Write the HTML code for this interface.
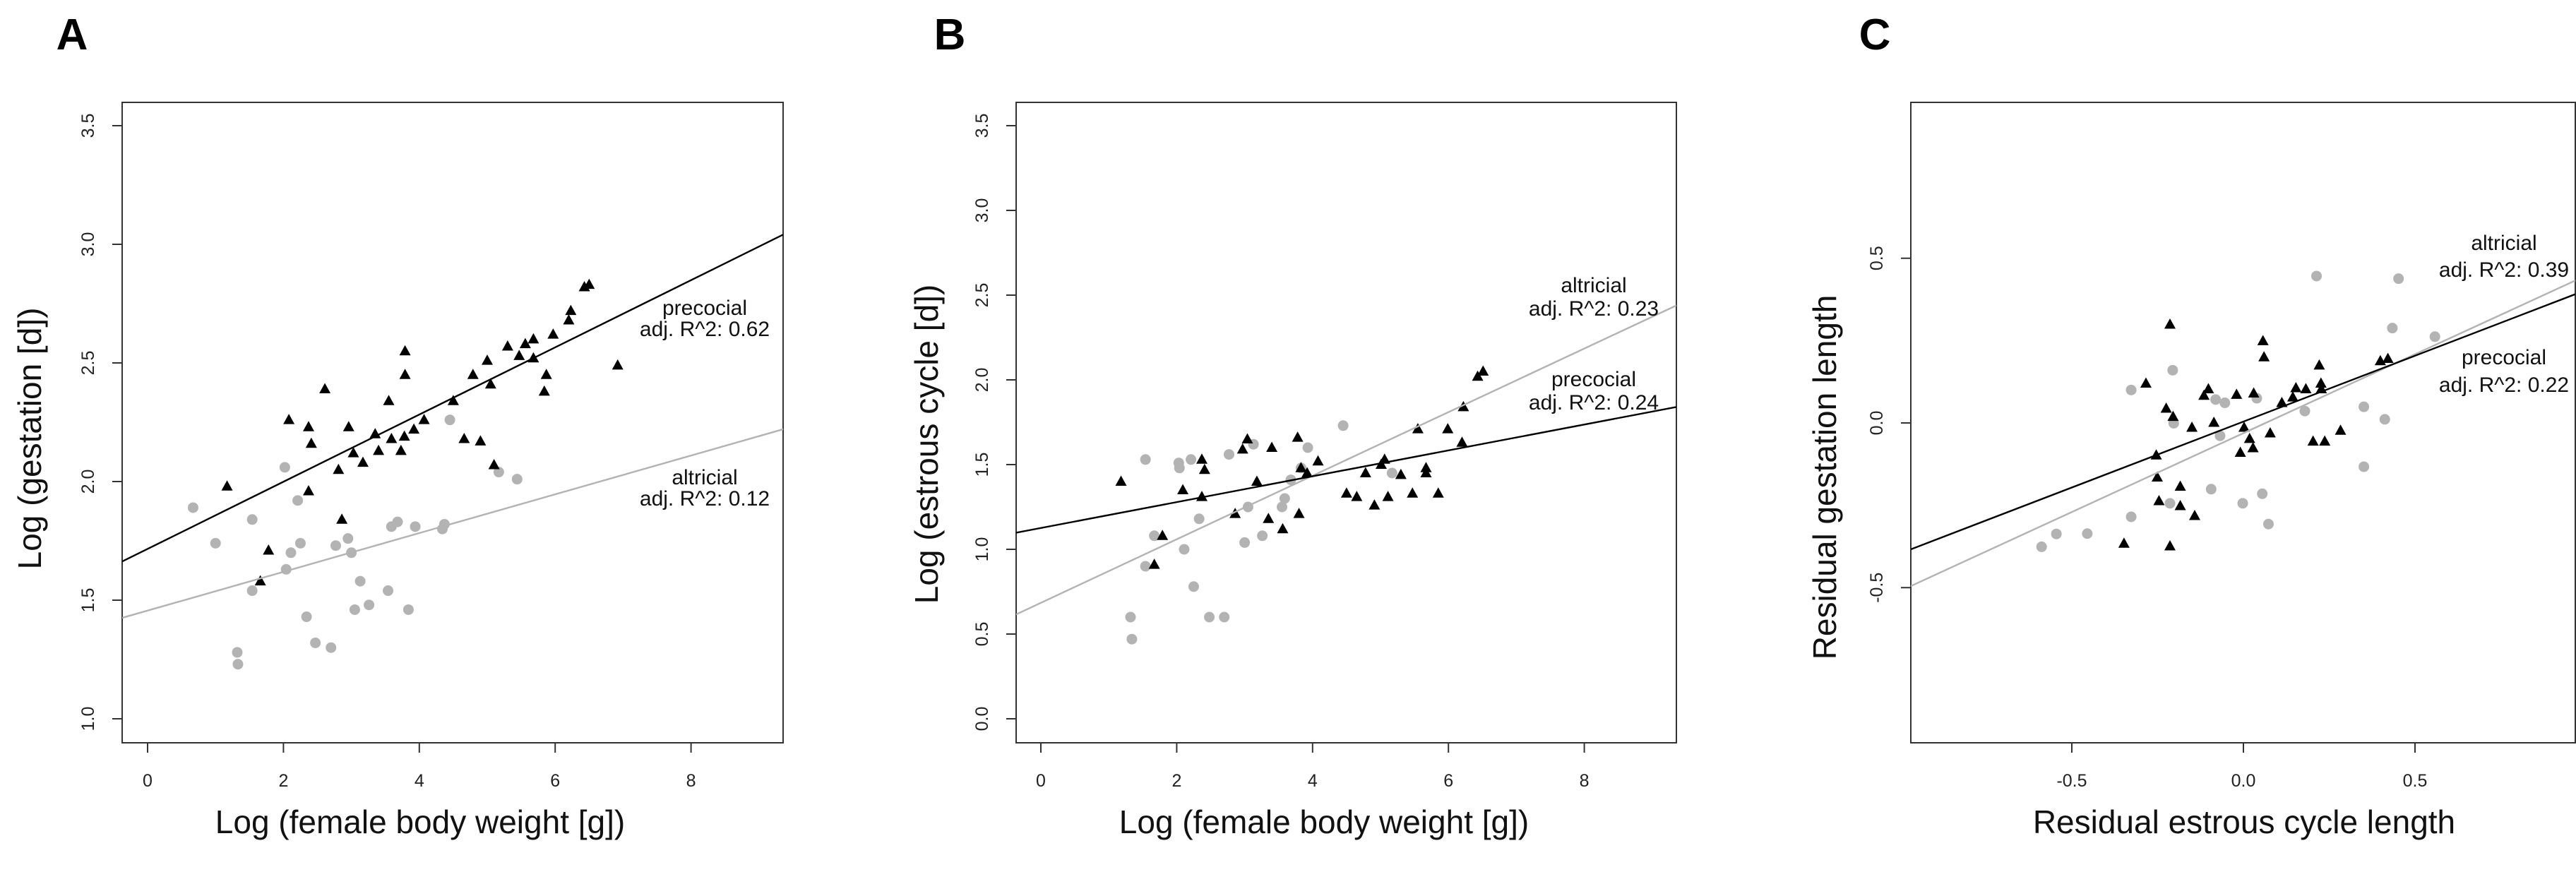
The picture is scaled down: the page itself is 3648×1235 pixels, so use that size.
<!DOCTYPE html>
<html><head><meta charset="utf-8"><style>
html,body{margin:0;padding:0;background:#fff;}
svg{display:block;}
text{font-family:"Liberation Sans",sans-serif;}
</style></head><body>
<svg id="fig" width="3648" height="1235" viewBox="0 0 3648 1235" xmlns="http://www.w3.org/2000/svg"></svg>
<script>
// Panel A data
const aPreX=[1.17,1.78,1.66,2.08,2.37,2.41,2.37,2.61,2.81,2.86,2.96,3.03,3.17,3.35,3.40,3.55,3.59,3.73,3.78,3.79,3.79,3.92,4.07,4.50,4.66,4.79,4.90,5.00,5.05,5.10,5.30,5.47,5.56,5.68,5.68,5.84,5.87,5.97,6.20,6.23,6.43,6.50,6.92];
const aPreY=[1.98,1.71,1.58,2.26,2.23,2.16,1.96,2.39,2.05,1.84,2.23,2.12,2.08,2.20,2.13,2.34,2.18,2.13,2.19,2.55,2.45,2.22,2.26,2.34,2.18,2.45,2.17,2.51,2.41,2.07,2.57,2.53,2.58,2.60,2.52,2.38,2.45,2.62,2.68,2.72,2.82,2.83,2.49];
const aAltX=[0.67,1.00,1.32,1.33,1.54,1.54,2.02,2.04,2.11,2.21,2.25,2.34,2.47,2.70,2.77,2.95,3.00,3.05,3.13,3.26,3.54,3.59,3.68,3.84,3.94,4.34,4.37,4.45,5.17,5.44];
const aAltY=[1.89,1.74,1.28,1.23,1.84,1.54,2.06,1.63,1.70,1.92,1.74,1.43,1.32,1.30,1.73,1.76,1.70,1.46,1.58,1.48,1.54,1.81,1.83,1.46,1.81,1.80,1.82,2.26,2.04,2.01];
const aFitPre=[1.716,0.1416], aFitAlt=[1.456,0.0817];
const aXTicks=[0,2,4,6,8], aYTicks=[1.0,1.5,2.0,2.5,3.0,3.5];
// Panel B data
const bPreX=[1.18,1.67,1.79,2.09,2.37,2.37,2.41,2.86,2.97,3.04,3.18,3.35,3.40,3.56,3.78,3.80,3.83,3.92,4.08,4.50,4.65,4.78,4.91,5.01,5.06,5.11,5.30,5.47,5.55,5.67,5.67,5.85,5.99,6.20,6.22,6.43,6.51];
const bPreY=[1.40,0.91,1.08,1.35,1.53,1.31,1.47,1.21,1.59,1.65,1.40,1.18,1.60,1.12,1.66,1.21,1.48,1.45,1.52,1.33,1.31,1.45,1.26,1.50,1.53,1.31,1.44,1.33,1.71,1.48,1.45,1.33,1.71,1.63,1.84,2.02,2.05];
const bAltX=[1.32,1.34,1.54,1.54,1.67,2.03,2.04,2.11,2.21,2.25,2.33,2.48,2.70,2.77,3.00,3.05,3.13,3.26,3.55,3.59,3.68,3.83,3.93,4.45,5.17];
const bAltY=[0.60,0.47,1.53,0.90,1.08,1.51,1.48,1.00,1.53,0.78,1.18,0.60,0.60,1.56,1.04,1.25,1.62,1.08,1.25,1.30,1.41,1.48,1.60,1.73,1.45];
const bFitPre=[1.126,0.0763], bFitAlt=[0.684,0.1876];
const bXTicks=[0,2,4,6,8], bYTicks=[0.0,0.5,1.0,1.5,2.0,2.5,3.0,3.5];
// Panel C data
const cPreX=[-0.348,-0.284,-0.254,-0.251,-0.246,-0.225,-0.214,-0.214,-0.205,-0.184,-0.184,-0.150,-0.142,-0.115,-0.102,-0.086,-0.020,-0.009,0.002,0.018,0.028,0.030,0.057,0.060,0.078,0.112,0.144,0.153,0.182,0.203,0.221,0.226,0.227,0.237,0.283,0.399,0.421];
const cPreY=[-0.366,0.120,-0.098,-0.165,-0.237,0.044,0.299,-0.374,0.019,-0.193,-0.252,-0.014,-0.282,0.083,0.103,0.001,0.086,-0.090,-0.014,-0.048,-0.076,0.090,0.249,0.200,-0.031,0.061,0.078,0.106,0.103,-0.056,0.175,0.120,0.103,-0.056,-0.023,0.188,0.195];
const cAltX=[-0.588,-0.545,-0.455,-0.327,-0.327,-0.214,-0.206,-0.203,-0.094,-0.081,-0.068,-0.054,-0.002,0.039,0.055,0.073,0.179,0.213,0.351,0.351,0.412,0.434,0.452,0.558];
const cAltY=[-0.376,-0.337,-0.336,-0.285,0.100,-0.244,0.160,-0.001,-0.201,0.071,-0.039,0.061,-0.244,0.075,-0.215,-0.307,0.036,0.446,0.049,-0.133,0.011,0.288,0.438,0.262];
const cFitPre=[0.004,0.400], cFitAlt=[-0.031,0.479];
const cXTicks=[-0.5,0.0,0.5], cYTicks=[-0.5,0.0,0.5];

const NS="http://www.w3.org/2000/svg";
const svg=document.getElementById('fig');
const GRAY="#b3b3b3";
function mk(tag,attrs,parent,text){const e=document.createElementNS(NS,tag);for(const k in attrs)e.setAttribute(k,attrs[k]);if(text!==undefined)e.textContent=text;(parent||svg).appendChild(e);return e;}

function panel(p){
  const g=mk('g',{});
  
  
  const sx=v=>p.x0px+(v-p.xa)*p.xs, sy=v=>p.y0px-(v-p.ya)*p.ys;
  const box=mk('rect',{x:p.L,y:p.T,width:p.R-p.L,height:p.B-p.T,fill:'none',stroke:'#333',"stroke-width":2},g);
  
  
  // x ticks
  p.xt.forEach(v=>{
    const x=sx(v);
    const t=mk('line',{x1:x,x2:x,y1:p.B,y2:p.B+14,stroke:'#333',"stroke-width":2},g);
    
    
    const l=mk('text',{x:x,y:p.B+62,"font-size":25,"text-anchor":"middle",fill:'#222'},g,p.fmt(v));
    
    
  });
  p.yt.forEach(v=>{
    const y=sy(v);
    const t=mk('line',{x1:p.L,x2:p.L-14,y1:y,y2:y,stroke:'#333',"stroke-width":2},g);
    
    
    const lx=p.L-40;
    const l=mk('text',{x:lx,y:y,"font-size":25,"text-anchor":"middle",fill:'#222',transform:`rotate(-90 ${lx} ${y})`},g,v.toFixed(1));
    
    
  });
  const clip=mk('clipPath',{id:'clip'+p.id},g);
  mk('rect',{x:p.L,y:p.T,width:p.R-p.L,height:p.B-p.T},clip);
  const pg=mk('g',{"clip-path":`url(#clip${p.id})`},g);
  
  
  const xl=p.xa+(p.L-p.x0px)/p.xs, xr=p.xa+(p.R-p.x0px)/p.xs;
  function fit(f,col,name){
    const ln=mk('line',{x1:sx(xl),y1:sy(f[0]+f[1]*xl),x2:sx(xr),y2:sy(f[0]+f[1]*xr),stroke:col,"stroke-width":2.4},pg);
    
    
  }
  function circles(X,Y){X.forEach((v,i)=>{
    const c=mk('circle',{cx:sx(v),cy:sy(Y[i]),r:7.5,fill:GRAY},pg);
    
    
  });}
  function tris(X,Y){X.forEach((v,i)=>{
    const x=sx(v),y=sy(Y[i]);
    const t=mk('polygon',{points:`${x},${y-8.5} ${x-8},${y+6} ${x+8},${y+6}`,fill:'#000'},pg);
    
    
  });}
  circles(p.altX,p.altY);
  tris(p.preX,p.preY);
  fit(p.fitAlt,GRAY,'altricial-fit-line');
  fit(p.fitPre,'#000','precocial-fit-line');
  p.notes.forEach(n=>{
    const a=mk('text',{x:n.x,y:n.y1,"font-size":30,"text-anchor":"middle",fill:'#111'},g,n.t1);
    
    
    const b=mk('text',{x:n.x,y:n.y2,"font-size":30,"text-anchor":"middle",fill:'#111'},g,n.t2);
    
    
  });
  const xt=mk('text',{x:p.xtx,y:1180,"font-size":46,"text-anchor":"middle",fill:'#111'},g,p.xtitle);
  
  
  const yt=mk('text',{x:p.ytx,y:p.yty,"font-size":46,"text-anchor":"middle",fill:'#111',transform:`rotate(-90 ${p.ytx} ${p.yty})`},g,p.ytitle);
  
  
  const lt=mk('text',{x:p.lx,y:70,"font-size":62,"font-weight":"bold","text-anchor":"middle",fill:'#000'},g,p.id);
  
  
}

panel({id:'A',L:173,R:1109,T:145,B:1052,xa:0,x0px:209,xs:96.2,ya:1.0,y0px:1018,ys:336,
  xt:aXTicks,yt:aYTicks,fmt:v=>String(v),preX:aPreX,preY:aPreY,altX:aAltX,altY:aAltY,fitPre:aFitPre,fitAlt:aFitAlt,
  notes:[{x:998,y1:446,y2:476,t1:'precocial',t2:'adj. R^2: 0.62',name:'precocial'},{x:998,y1:686,y2:716,t1:'altricial',t2:'adj. R^2: 0.12',name:'altricial'}],
  xtitle:'Log (female body weight [g])',xtx:595,ytitle:'Log (gestation [d])',ytx:58,yty:621,lx:102});
panel({id:'B',L:1439,R:2374,T:145,B:1052,xa:0,x0px:1474,xs:96.2,ya:0,y0px:1018,ys:240,
  xt:bXTicks,yt:bYTicks,fmt:v=>String(v),preX:bPreX,preY:bPreY,altX:bAltX,altY:bAltY,fitPre:bFitPre,fitAlt:bFitAlt,
  notes:[{x:2257,y1:414,y2:447,t1:'altricial',t2:'adj. R^2: 0.23',name:'altricial'},{x:2257,y1:547,y2:580,t1:'precocial',t2:'adj. R^2: 0.24',name:'precocial'}],
  xtitle:'Log (female body weight [g])',xtx:1875,ytitle:'Log (estrous cycle [d])',ytx:1328,yty:629,lx:1345});
panel({id:'C',L:2706,R:3647,T:145,B:1052,xa:0,x0px:3177,xs:486,ya:0,y0px:599,ys:466.5,
  xt:cXTicks,yt:cYTicks,fmt:v=>v.toFixed(1),preX:cPreX,preY:cPreY,altX:cAltX,altY:cAltY,fitPre:cFitPre,fitAlt:cFitAlt,
  notes:[{x:3546,y1:354,y2:392,t1:'altricial',t2:'adj. R^2: 0.39',name:'altricial'},{x:3546,y1:516,y2:555,t1:'precocial',t2:'adj. R^2: 0.22',name:'precocial'}],
  xtitle:'Residual estrous cycle length',xtx:3178,ytitle:'Residual gestation length',ytx:2600,yty:676,lx:2655});
</script>
</body></html>
